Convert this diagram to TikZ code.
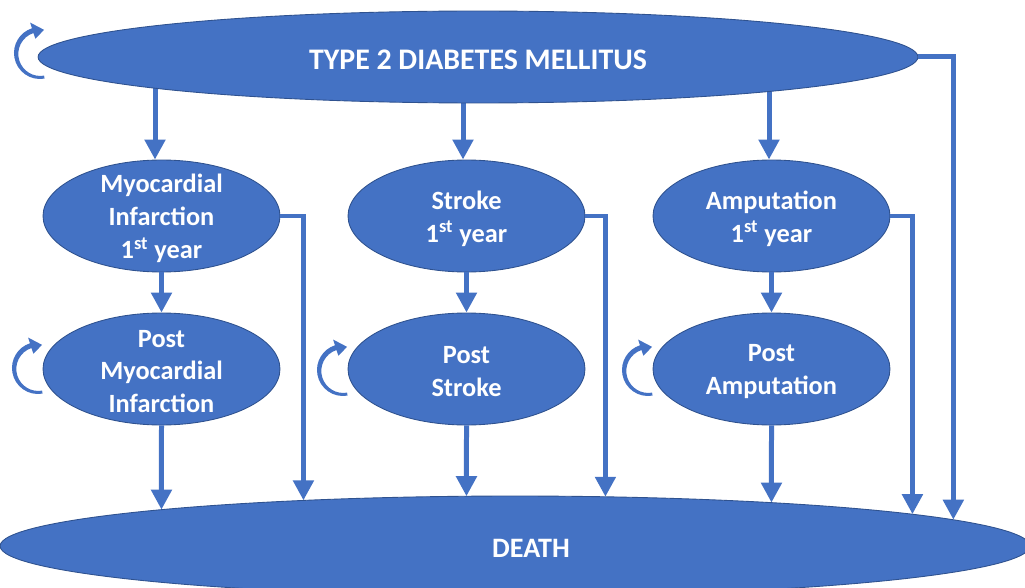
\documentclass[tikz,border=0pt]{standalone}
\usepackage{fontspec}
\setmainfont{Carlito}
\usetikzlibrary{calc, arrows.meta, shapes.geometric, intersections}
\definecolor{stateblue}{HTML}{4472C4}
\definecolor{stateline}{HTML}{2F528F}
\pgfdeclarelayer{bg}
\pgfsetlayers{bg,main}
\tikzset{
    state/.style={ellipse, fill=stateblue, draw=stateline, line width=0.5pt, inner sep=0pt,
        minimum width=4.74cm, minimum height=2.24cm},
    statetext/.style={text=white, align=center, yshift=-0.05cm, font=\bfseries\fontsize{15}{18.7}\selectfont},
    flow/.style={draw=stateblue, line width=0.1cm, -{Triangle[width=0.4cm, length=0.4cm]}},
    selfloop/.pic={
        \fill[stateblue] (280:26) arc[start angle=280, end angle=108, radius=26]
            -- (108:32) -- (80:23.5) -- (108:15) -- (108:21)
            arc[start angle=108, end angle=280, radius=22] -- cycle;
    }
}

\begin{document}
\begin{tikzpicture}[x=0.02cm, y=0.02cm]

        \useasboundingbox (0,0) rectangle (1025,-588);

        \node[state, minimum width=17.6cm, minimum height=1.84cm,
            label={[statetext, font=\bfseries\fontsize{17}{20}\selectfont]center:TYPE 2 DIABETES MELLITUS}] (t2dm) at (478,-57) {};

        \node[state, label={[statetext]center:Myocardial\\Infarction\\1\textsuperscript{st} year}] (mi1) at (161.5,-216) {};
        \node[state, label={[statetext]center:Stroke\\1\textsuperscript{st} year}] (st1) at (466.5,-216) {};
        \node[state, label={[statetext]center:Amputation\\1\textsuperscript{st} year}] (am1) at (771.5,-216) {};

        \node[state, label={[statetext]center:Post\\Myocardial\\Infarction}] (mi2) at (161.5,-369) {};
        \node[state, label={[statetext]center:Post\\Stroke}] (st2) at (466.5,-369) {};
        \node[state, label={[statetext]center:Post\\Amputation}] (am2) at (771.5,-369) {};

        \node[state, minimum width=20.6cm, minimum height=2cm,
            label={[statetext, xshift=0.32cm, font=\bfseries\fontsize{16}{19}\selectfont]center:DEATH}] (death) at (515,-546) {};
        \path[name path=deathrim] (death.center) ellipse[x radius=515, y radius=50];

        % staying in the same state
        \pic at (40,-53) {selfloop};
        \pic at (38,-368) {selfloop};
        \pic at (343,-370) {selfloop};
        \pic at (648,-370) {selfloop};

        \begin{pgfonlayer}{bg}
            \foreach \dst/\dx in {mi1/-6.5, st1/-3.5, am1/-2.5} {
                \coordinate (entry) at ($(\dst.north)+(\dx,0)$);
                \draw[flow] (t2dm.center -| entry) -- (entry);
            }
        \end{pgfonlayer}

        \draw[flow] (mi1) -- (mi2);
        \draw[flow] (st1) -- (st2);
        \draw[flow] (am1) -- (am2);

        \foreach \src in {mi2, st2, am2} {
            \path[name path=drop] (\src.south) -- (\src.south |- death.center);
            \draw[flow, name intersections={of=drop and deathrim}] (\src.south) -- (intersection-1);
        }

        \foreach \src/\gap in {mi1/23, st1/20, am1/22, t2dm/35} {
            \path[name path=drop] (\src.east) -- ++(\gap,0) coordinate (bend) -- (bend |- death.center);
            \draw[flow, name intersections={of=drop and deathrim}] (\src.east) -| (intersection-1);
        }

    \end{tikzpicture}
\end{document}
